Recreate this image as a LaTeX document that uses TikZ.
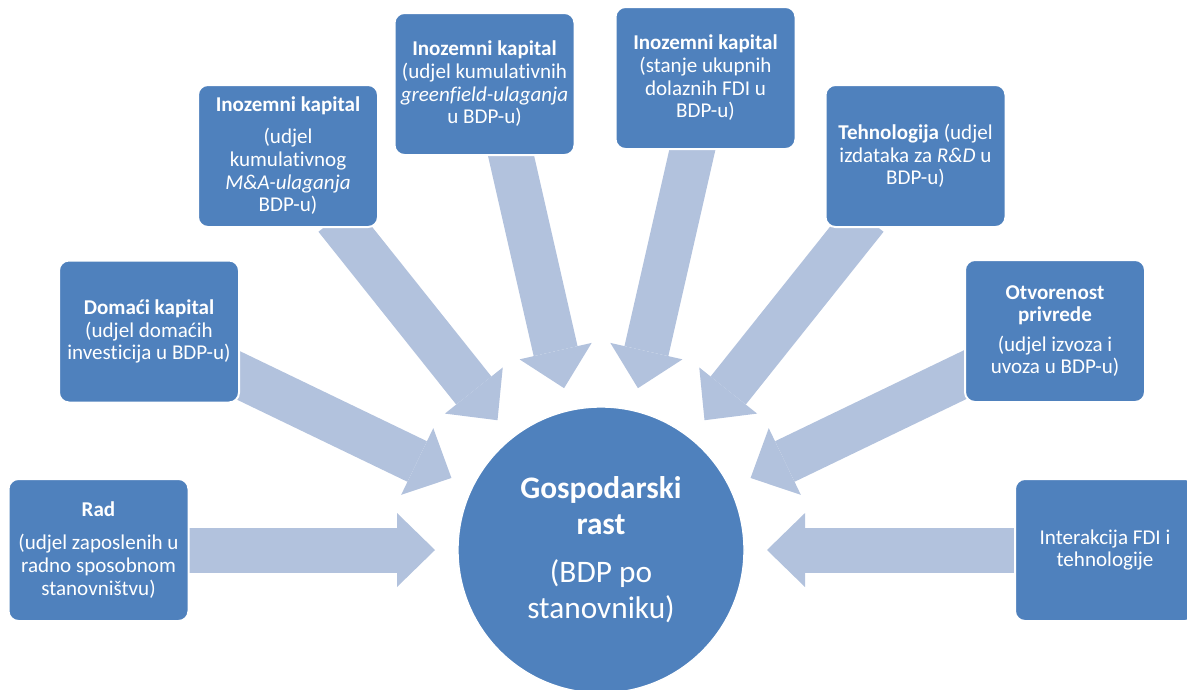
\documentclass[tikz,border=0pt]{standalone}
\usepackage{fontspec}
\setmainfont{Carlito}[Ligatures=NoCommon]
\usetikzlibrary{arrows.meta,calc,backgrounds}
\definecolor{boxblue}{RGB}{79,129,189}
\definecolor{arrowblue}{RGB}{178,194,221}
\begin{document}
\begin{tikzpicture}[x=0.75pt,y=-0.75pt,
  fbox/.style={rectangle, rounded corners=7.5pt, fill=boxblue, draw=white, line width=1.5pt,
    minimum width=135pt, minimum height=106.5pt, inner sep=2pt, text=white, align=center,
    font=\fontsize{15.8pt}{17pt}\selectfont},
  hub/.style={circle, fill=boxblue, draw=white, line width=1pt, minimum size=214.5pt,
    inner sep=0pt, outer sep=0pt, text=white, align=center,
    font=\fontsize{23.5pt}{27pt}\selectfont},
  bigarrow/.style={draw=arrowblue, line width=33.75pt, shorten >=17.25pt,
    -{Triangle[width=55.5pt,length=28.5pt,line width=0pt]}}]
\useasboundingbox (0,0) rectangle (1187,689);

\node[hub] (g) at (601,550) {\textbf{Gospodarski}\\ \textbf{rast}\\[9pt] (BDP po\\ stanovniku)};

\node[fbox] (rad) at (98.5,550) {\textbf{Rad}\\[8pt] (udjel zaposlenih u\\ radno sposobnom\\ stanovništvu)};
\node[fbox] (dom) at (149,331.5) {\textbf{Domaći kapital}\\ (udjel domaćih\\ investicija u BDP-u)};
\node[fbox] (ma) at (288,156) {\textbf{Inozemni kapital}\\[7pt] (udjel\\ kumulativnog\\ \textit{M\&A-ulaganja}\\ BDP-u)};
\node[fbox] (gf) at (484.5,84) {\textbf{Inozemni kapital}\\ (udjel kumulativnih\\ \textit{greenfield-ulaganja}\\ u BDP-u)};
\node[fbox] (fdi) at (705.5,78) {\textbf{Inozemni kapital}\\ (stanje ukupnih\\ dolaznih FDI u\\ BDP-u)};
\node[fbox] (teh) at (915.5,156) {\textbf{Tehnologija} (udjel\\ izdataka za \textit{R\&D} u\\ BDP-u)};
\node[fbox] (otv) at (1055,331) {\textbf{Otvorenost}\\ \textbf{privrede}\\[5pt] (udjel izvoza i\\ uvoza u BDP-u)};
\node[fbox] (int) at (1105,550) {Interakcija FDI i\\ tehnologije};

\coordinate (t1) at ($(g.center)+(180:425)$);
\coordinate (t2) at ($(g.center)+(205.714:425)$);
\coordinate (t3) at ($(g.center)+(231.429:425)$);
\coordinate (t4) at ($(g.center)+(257.143:425)$);
\coordinate (t5) at ($(g.center)+(282.857:425)$);
\coordinate (t6) at ($(g.center)+(308.571:425)$);
\coordinate (t7) at ($(g.center)+(334.286:425)$);
\coordinate (t8) at ($(g.center)+(360:425)$);

\begin{scope}[on background layer]
\foreach \t in {t1,t2,t3,t4,t5,t6,t7,t8}
  \draw[bigarrow] (\t) -- (g);
\end{scope}
\end{tikzpicture}
\end{document}
